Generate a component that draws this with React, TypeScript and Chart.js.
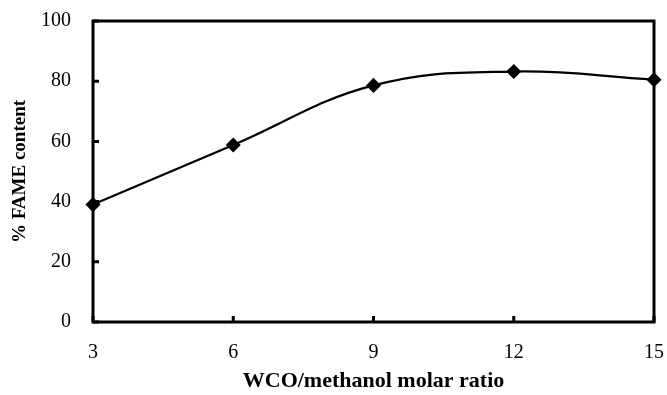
import React, { useEffect, useRef } from "react";
import { Chart, registerables } from "chart.js";

Chart.register(...registerables);

const ratios = [3, 6, 9, 12, 15];
const fameContent = [39, 58.8, 78.6, 83.2, 80.5];
const xTicks = [3, 6, 9, 12, 15];
const yTicks = [0, 20, 40, 60, 80, 100];

const FONT = "'Liberation Serif', 'Times New Roman', serif";

const framePlugin = {
  id: "frame",
  beforeDatasetsDraw(chart: any) {
    const { ctx, chartArea } = chart;
    const { left, right, top, bottom } = chartArea;
    const xs = chart.scales.x;
    const ys = chart.scales.y;
    ctx.save();
    ctx.strokeStyle = "#000";
    ctx.lineWidth = 3;
    ctx.lineJoin = "miter";
    ctx.strokeRect(left, top, right - left, bottom - top);
    ctx.beginPath();
    xTicks.forEach((v) => {
      const px = xs.getPixelForValue(v);
      ctx.moveTo(px, bottom);
      ctx.lineTo(px, bottom - 6);
    });
    yTicks.forEach((v) => {
      const py = ys.getPixelForValue(v);
      ctx.moveTo(left, py);
      ctx.lineTo(left + 6, py);
    });
    ctx.stroke();
    ctx.restore();
  },
};

export default function App() {
  const ref = useRef<HTMLCanvasElement>(null);
  useEffect(() => {
    document.body.style.margin = "0";
    const chart = new Chart(ref.current!, {
      type: "line",
      data: {
        datasets: [
          {
            data: ratios.map((r, i) => ({ x: r, y: fameContent[i] })),
            borderColor: "#000",
            backgroundColor: "#000",
            borderWidth: 2.2,
            pointStyle: "rectRot",
            pointRadius: 6,
            pointBackgroundColor: "#000",
            pointBorderColor: "#000",
            tension: 0.4,
            clip: false as any,
          },
        ],
      },
      options: {
        animation: false,
        responsive: false,
        maintainAspectRatio: false,
        layout: { padding: { left: 0, top: 21, right: 13, bottom: 0 } },
        plugins: { legend: { display: false }, tooltip: { enabled: false } },
        scales: {
          x: {
            type: "linear",
            min: 3,
            max: 15,
            afterBuildTicks: (s: any) => {
              s.ticks = xTicks.map((v) => ({ value: v }));
            },
            afterFit: (s: any) => {
              s.height = 73;
              s.paddingLeft = 0;
              s.paddingRight = 0;
            },
            grid: { display: false, drawTicks: false },
            border: { display: false },
            ticks: {
              color: "#000",
              padding: 19,
              font: { family: FONT, size: 20 },
            },
            title: {
              display: true,
              text: "WCO/methanol molar ratio",
              color: "#000",
              padding: { top: 0, bottom: 0 },
              font: { family: FONT, size: 22, weight: "bold" },
            },
          },
          y: {
            type: "linear",
            min: 0,
            max: 100,
            afterBuildTicks: (s: any) => {
              s.ticks = yTicks.map((v) => ({ value: v }));
            },
            afterFit: (s: any) => {
              s.width = 93;
              s.paddingTop = 0;
              s.paddingBottom = 0;
            },
            grid: { display: false, drawTicks: false },
            border: { display: false },
            ticks: {
              color: "#000",
              padding: 22,
              font: { family: FONT, size: 20 },
            },
            title: {
              display: true,
              text: "% FAME content",
              color: "#000",
              padding: { top: 9, bottom: 0 },
              font: { family: FONT, size: 19, weight: "bold" },
            },
          },
        },
      },
      plugins: [framePlugin],
    });
    return () => chart.destroy();
  }, []);
  return (
    <div style={{ width: 667, height: 395 }}>
      <canvas ref={ref} width={667} height={395} style={{ display: "block" }} />
    </div>
  );
}
